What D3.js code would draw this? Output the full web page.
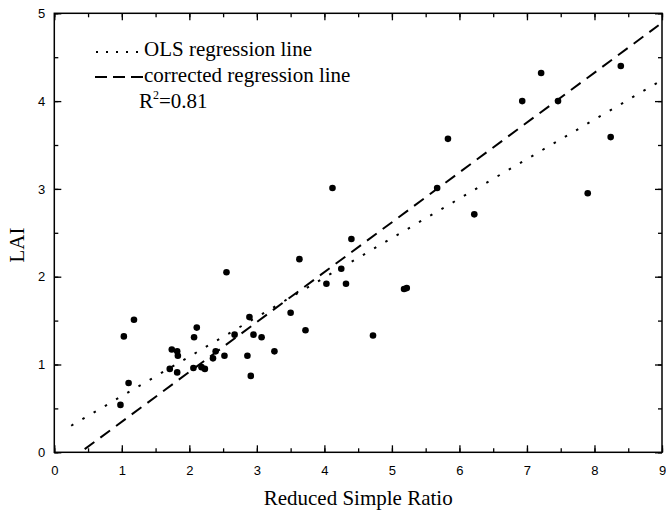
<!DOCTYPE html>
<html><head><meta charset="utf-8">
<script src="https://cdn.jsdelivr.net/npm/d3@7"></script>
<style>
body{margin:0;background:#fff}svg{display:block}
.serif{font-family:"Liberation Serif","Times New Roman",Times,"DejaVu Serif",serif}
.sans{font-family:"Liberation Sans",Arial,Helvetica,sans-serif}
</style>
</head><body>
<script>
const xVals = [3.63,2.55,1.18,1.03,2.11,2.07,1.74,1.82,1.83,1.71,1.82,2.06,2.18,2.23,2.35,2.39,2.52,2.67,2.89,2.95,3.07,2.86,2.91,3.26,3.50,3.72,1.10,0.98,
  4.12,5.67,6.22,4.40,4.25,4.03,4.32,5.18,5.22,4.72,7.21,6.93,7.46,8.39,8.24,7.90,5.83];
const yVals = [2.20,2.05,1.51,1.32,1.42,1.31,1.17,1.15,1.10,0.95,0.91,0.96,0.97,0.95,1.07,1.15,1.10,1.34,1.54,1.34,1.31,1.10,0.87,1.15,1.59,1.39,0.79,0.54,
  3.01,3.01,2.71,2.43,2.09,1.92,1.92,1.86,1.87,1.33,4.32,4.00,4.00,4.40,3.59,2.95,3.57];
const olsLine = {intercept: 0.19, slope: 0.45, from: 0.25, to: 8.97};
const corrLine = {intercept: -0.22, slope: 0.568, from: 0.45, to: 8.95};
const xTicks = [0,1,2,3,4,5,6,7,8,9];
const yTicks = [0,1,2,3,4,5];
const legendLabels = ["OLS regression line","corrected regression line"];
const r2Text = "0.81";

const W=666,H=512, L=54.3, R=662, T=13.3, B=452.3;
const svg=d3.select("body").append("svg").attr("width",W).attr("height",H);
const x=d3.scaleLinear().domain([0,9]).range([L,R]);
const y=d3.scaleLinear().domain([0,5]).range([B,T]);

function styleAxis(g){g.select(".domain").remove();g.attr("font-family",null).attr("font-size",null);g.selectAll("line").attr("stroke","#000").attr("stroke-width",1.3);}
const minorX=d3.range(0,9.01,0.5), minorY=d3.range(0,5.01,0.5);
function labels(g){g.selectAll("text").attr("class","sans").style("font-size","13px").attr("fill","#000");}
svg.append("g").attr("transform",`translate(0,${B})`).call(d3.axisBottom(x).tickValues(minorX).tickSize(-4).tickFormat("")).call(styleAxis);
svg.append("g").attr("transform",`translate(0,${B})`).call(d3.axisBottom(x).tickValues(xTicks).tickSize(-7).tickPadding(13).tickFormat(d3.format("d")))
  .call(styleAxis).call(labels);
svg.append("g").attr("transform",`translate(0,${T})`).call(d3.axisTop(x).tickValues(minorX).tickSize(-4).tickFormat("")).call(styleAxis);
svg.append("g").attr("transform",`translate(0,${T})`).call(d3.axisTop(x).tickValues(xTicks).tickSize(-7).tickFormat("")).call(styleAxis);
svg.append("g").attr("transform",`translate(${L},0)`).call(d3.axisLeft(y).tickValues(minorY).tickSize(-4).tickFormat("")).call(styleAxis);
svg.append("g").attr("transform",`translate(${L},0)`).call(d3.axisLeft(y).tickValues(yTicks).tickSize(-7).tickPadding(9).tickFormat(d3.format("d")))
  .call(styleAxis).call(labels);
svg.append("g").attr("transform",`translate(${R},0)`).call(d3.axisRight(y).tickValues(minorY).tickSize(-4).tickFormat("")).call(styleAxis);
svg.append("g").attr("transform",`translate(${R},0)`).call(d3.axisRight(y).tickValues(yTicks).tickSize(-7).tickFormat("")).call(styleAxis);
svg.append("rect").attr("x",L).attr("y",T).attr("width",R-L).attr("height",B-T).attr("fill","none").attr("stroke","#000").attr("stroke-width",1.5);

function drawLine(p,dash){
  svg.append("line").attr("x1",x(p.from)).attr("y1",y(p.intercept+p.slope*p.from))
    .attr("x2",x(p.to)).attr("y2",y(p.intercept+p.slope*p.to))
    .attr("stroke","#000").attr("stroke-width",2).attr("stroke-dasharray",dash);
}
drawLine(olsLine,"2.5,10.5");
drawLine(corrLine,"12,7.5");

svg.append("g").selectAll("circle").data(xVals.map((v,i)=>[v,yVals[i]])).join("circle")
  .attr("cx",d=>x(d[0])).attr("cy",d=>y(d[1])).attr("r",3.3).attr("fill","#000");

const lg=svg.append("g");
lg.append("line").attr("x1",96).attr("x2",143).attr("y1",52).attr("y2",52).attr("stroke","#000").attr("stroke-width",2).attr("stroke-dasharray","2,8");
lg.append("line").attr("x1",95).attr("x2",143).attr("y1",77).attr("y2",77).attr("stroke","#000").attr("stroke-width",2).attr("stroke-dasharray","12,6");
lg.append("text").attr("class","serif").attr("x",144).attr("y",56).text(legendLabels[0]).style("font-size","21px");
lg.append("text").attr("class","serif").attr("x",144).attr("y",82).text(legendLabels[1]).style("font-size","21px");
const rt=svg.append("text").attr("class","serif").attr("x",139).attr("y",108).style("font-size","21px");
rt.append("tspan").text("R");
rt.append("tspan").text("2").style("font-size","12px").attr("dy",-9);
rt.append("tspan").text("="+r2Text).attr("dy",9);

svg.append("text").attr("class","serif").attr("x",(L+R)/2).attr("y",505).attr("text-anchor","middle").style("font-size","21px").text("Reduced Simple Ratio");
svg.append("text").attr("class","serif").attr("transform","translate(24,245) rotate(-90)").attr("text-anchor","middle").style("font-size","21px").text("LAI");
</script>
</body></html>
